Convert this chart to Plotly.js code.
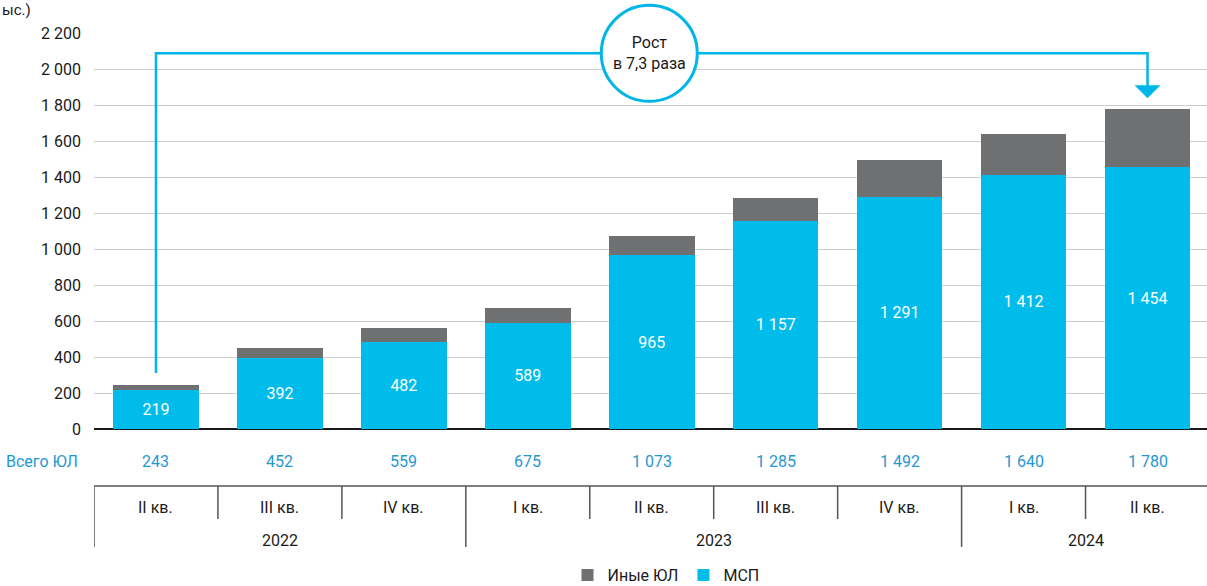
<!DOCTYPE html>
<html>
<head>
<meta charset="utf-8">
<script src="https://cdn.plot.ly/plotly-3.0.1.min.js"></script>
<style>
  html, body { margin: 0; padding: 0; background: #ffffff; overflow: hidden; }
  #chart { width: 1207px; height: 586px; }
</style>
</head>
<body>
<div id="chart"></div>
<script>
// ---- Data ----
const quarters = ['II кв.', 'III кв.', 'IV кв.', 'I кв.', 'II кв.', 'III кв.', 'IV кв.', 'I кв.', 'II кв.'];
const years    = ['2022', '2022', '2022', '2023', '2023', '2023', '2023', '2024', '2024'];
const mspValues   = [219, 392, 482, 589, 965, 1157, 1291, 1412, 1454];
const otherValues = [24, 60, 77, 86, 108, 128, 201, 228, 326];
const totalValues = [243, 452, 559, 675, 1073, 1285, 1492, 1640, 1780];
const seriesNames = { msp: 'МСП', other: 'Иные ЮЛ' };
const totalRowLabel = 'Всего ЮЛ';
const growthLabel = 'Рост<br>в 7,3 раза';
const unitLabel = 'ыс.)';

// ---- Helpers ----
const categories = quarters.map((q, i) => q + ' ' + years[i]);
const fmt = n => String(n).replace(/\B(?=(\d{3})+(?!\d))/g, ' ');

const FONT = 'Roboto, "Open Sans", "Liberation Sans", sans-serif';
const BLUE = '#00bceb';
const GREY = '#6f7072';
const ARROW = '#00b5e8';
const TOTAL_BLUE = '#1f97d4';
const DARK = '#1a1a1a';

const W = 1207, H = 586, ML = 94, MR = 0, MT = 33, MB = 157;
const X_RANGE = [-0.5, 8.48];
const Y_RANGE = [0, 2200];

const traces = [
  {
    type: 'bar', name: seriesNames.msp, x: categories, y: mspValues,
    marker: { color: BLUE },
    text: mspValues.map(fmt), textposition: 'inside', insidetextanchor: 'middle',
    textangle: 0, constraintext: 'none',
    textfont: { family: FONT, size: 16, color: '#ffffff' },
    hoverinfo: 'skip'
  },
  {
    type: 'bar', name: seriesNames.other, x: categories, y: otherValues,
    marker: { color: GREY }, hoverinfo: 'skip'
  }
];

const plotH = H - MT - MB;
const plotW = W - ML - MR;
const py = px => (H - MB - px) / plotH;            // page y -> paper y
const xPaper = v => (v - X_RANGE[0]) / (X_RANGE[1] - X_RANGE[0]);  // category index -> paper x
const yPaper = v => (v - Y_RANGE[0]) / (Y_RANGE[1] - Y_RANGE[0]);  // value -> paper y

const yTotals = py(462);
const yTableTop = py(486);
const yQuarterEnd = py(519);
const yYearEnd = py(547);
const yQuarterTxt = py(508);
const yYearTxt = py(540);

const annotations = [];
const shapes = [];

// Total row
annotations.push({ xref: 'paper', yref: 'paper', x: -14 / plotW, y: yTotals,
  xanchor: 'right', yanchor: 'middle', text: totalRowLabel, showarrow: false,
  font: { family: FONT, size: 16, color: TOTAL_BLUE } });
totalValues.forEach((v, i) => annotations.push({ xref: 'x', yref: 'paper', x: i, y: yTotals,
  xanchor: 'center', yanchor: 'middle', text: fmt(v), showarrow: false,
  font: { family: FONT, size: 16, color: TOTAL_BLUE } }));

// Quarter labels
quarters.forEach((q, i) => annotations.push({ xref: 'x', yref: 'paper', x: i, y: yQuarterTxt,
  xanchor: 'center', yanchor: 'middle', text: q, showarrow: false,
  font: { family: FONT, size: 16, color: DARK } }));

// Table lines
const tableLine = { color: '#555555', width: 1.5 };
shapes.push({ type: 'line', xref: 'paper', yref: 'paper', x0: 0, x1: 1, y0: yTableTop, y1: yTableTop, line: tableLine });
for (let i = 0; i < categories.length; i++) {
  const isYearStart = i === 0 || years[i] !== years[i - 1];
  shapes.push({ type: 'line', xref: 'x', yref: 'paper', x0: i - 0.5, x1: i - 0.5,
    y0: yTableTop, y1: isYearStart ? yYearEnd : yQuarterEnd, line: tableLine });
}
// Year labels (centered on their group)
const uniqYears = [...new Set(years)];
uniqYears.forEach(yr => {
  const idx = years.map((y, i) => y === yr ? i : -1).filter(i => i >= 0);
  const mid = (idx[0] + idx[idx.length - 1]) / 2;
  annotations.push({ xref: 'x', yref: 'paper', x: mid, y: yYearTxt, xanchor: 'center', yanchor: 'middle',
    text: yr, showarrow: false, font: { family: FONT, size: 16, color: DARK } });
});

// Growth arrow (paper-referenced so it is not clipped by the plot area)
const last = categories.length - 1;
const arrowY = 2087;
const arrowLine = { color: ARROW, width: 2.5 };
shapes.push({ type: 'path', xref: 'paper', yref: 'paper',
  path: `M ${xPaper(0)},${yPaper(311)} L ${xPaper(0)},${yPaper(arrowY)} L ${xPaper(last)},${yPaper(arrowY)} L ${xPaper(last)},${yPaper(1905)}`,
  line: arrowLine, layer: 'above' });
shapes.push({ type: 'path', xref: 'paper', yref: 'paper', xsizemode: 'pixel', ysizemode: 'pixel',
  xanchor: xPaper(last), yanchor: yPaper(1909),
  path: 'M -12.5,0 L 12.5,0 L 0,-12.5 Z', fillcolor: ARROW, line: { color: ARROW, width: 0.5 }, layer: 'above' });
shapes.push({ type: 'circle', xref: 'paper', yref: 'paper', xsizemode: 'pixel', ysizemode: 'pixel',
  xanchor: xPaper(3.98), yanchor: yPaper(arrowY), x0: -48, x1: 48, y0: -48, y1: 48,
  fillcolor: '#ffffff', line: { color: ARROW, width: 3 }, layer: 'above' });
annotations.push({ xref: 'paper', yref: 'paper', x: xPaper(3.98), y: yPaper(arrowY), text: growthLabel, showarrow: false,
  xanchor: 'center', yanchor: 'middle', font: { family: FONT, size: 16, color: DARK } });

// Unit label (top-left)
annotations.push({ xref: 'paper', yref: 'paper', x: -ML / plotW, y: py(-1), xanchor: 'left', yanchor: 'top',
  text: unitLabel, showarrow: false, font: { family: FONT, size: 15, color: DARK } });

const layout = {
  width: W, height: H,
  margin: { l: ML, r: MR, t: MT, b: MB, pad: 0 },
  paper_bgcolor: '#ffffff', plot_bgcolor: '#ffffff',
  barmode: 'stack', bargap: 0.31,
  separators: ', ',
  font: { family: FONT, size: 16, color: DARK },
  xaxis: { type: 'category', range: X_RANGE, showticklabels: false, showgrid: false,
    zeroline: false, showline: false, ticks: '', fixedrange: true, automargin: false },
  yaxis: { range: Y_RANGE, dtick: 200, tick0: 0, separatethousands: true,
    showgrid: true, gridcolor: '#cccccc', gridwidth: 1,
    zeroline: true, zerolinecolor: '#1a1a1a', zerolinewidth: 1.5,
    showline: false, ticks: '', ticklabelstandoff: 12, automargin: false,
    tickfont: { family: FONT, size: 16, color: DARK }, fixedrange: true },
  showlegend: true,
  legend: { orientation: 'h', xref: 'container', yref: 'container',
    x: 666 / W, xanchor: 'center', y: (H - 575) / H, yanchor: 'middle',
    traceorder: 'reversed', font: { family: FONT, size: 16, color: DARK }, itemwidth: 30 },
  annotations: annotations,
  shapes: shapes
};

Plotly.newPlot('chart', traces, layout, { displayModeBar: false, staticPlot: true });
</script>
</body>
</html>
